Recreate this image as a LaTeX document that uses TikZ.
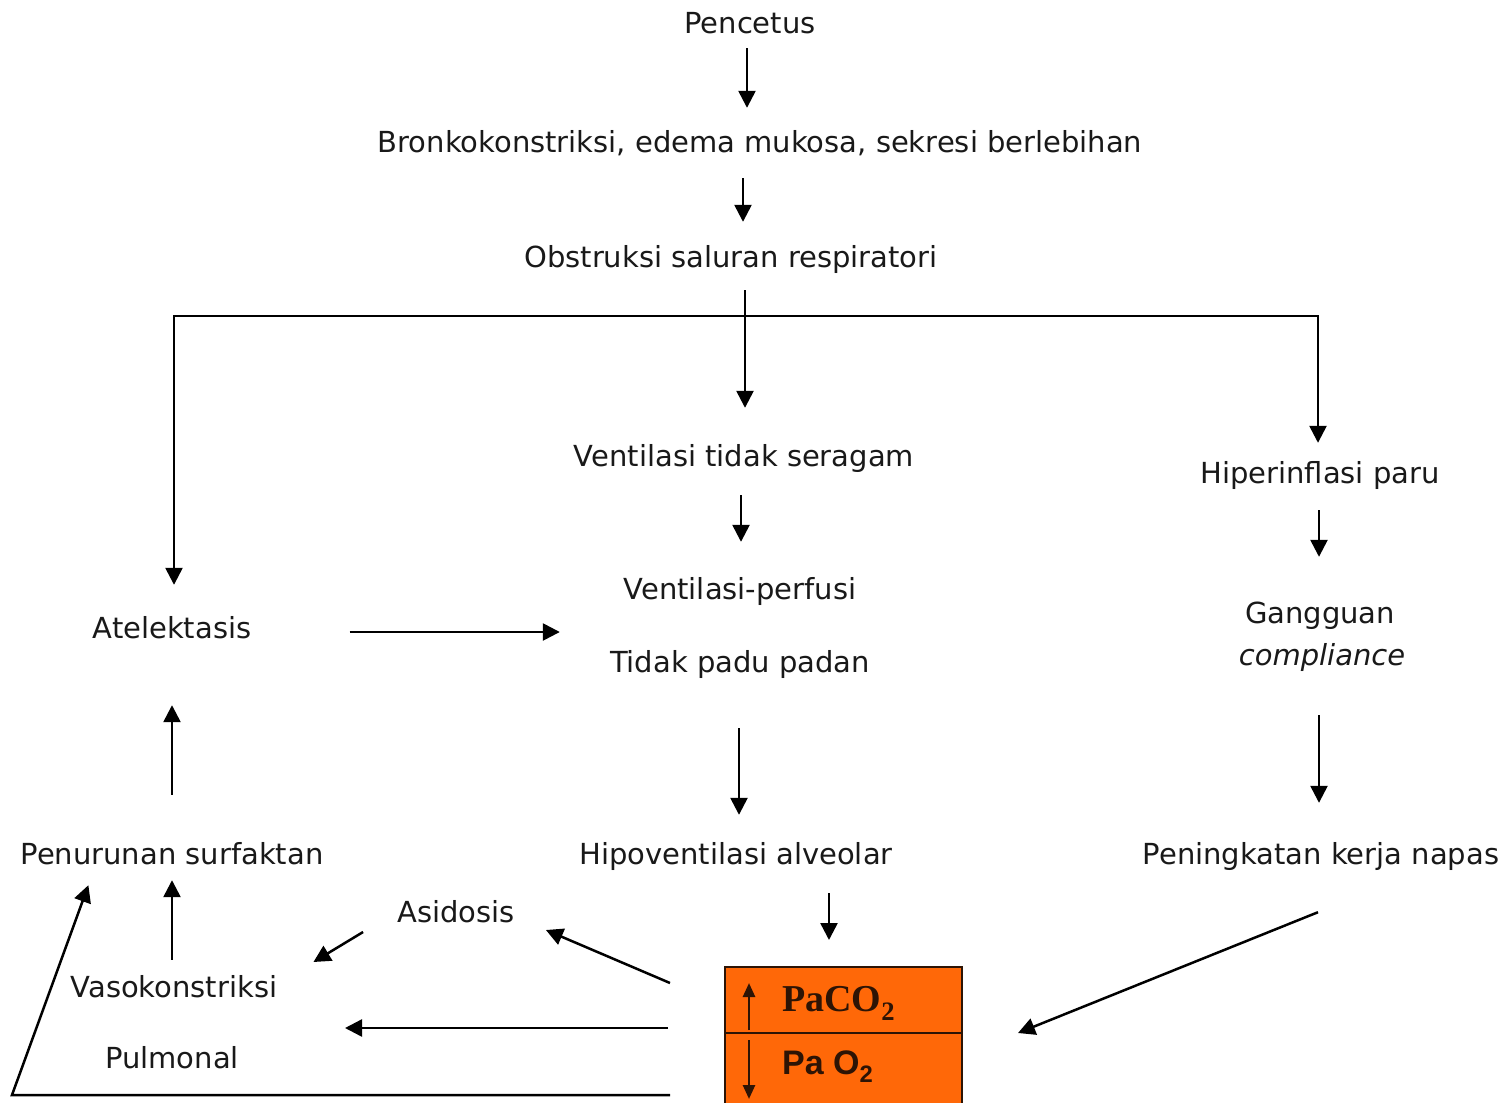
\documentclass[tikz,border=0pt]{standalone}
\usepackage{fontspec}
\setmainfont{DejaVu Sans}
\newfontfamily\boxserif{Liberation Serif}
\newfontfamily\boxsans{Liberation Sans}
\usetikzlibrary{arrows.meta,calc}
\definecolor{ink}{RGB}{25,25,25}
\definecolor{boxfill}{RGB}{255,104,8}
\definecolor{boxline}{RGB}{45,20,5}

\begin{document}
\begin{tikzpicture}[x=1pt,y=-1pt,
  lbl/.style={font=\fontsize{29}{34}\selectfont, text=ink, inner sep=0pt,
              text height=20pt, text depth=6pt},
  arr/.style={line width=2.5pt, draw=black, -{Triangle[length=17pt,width=17pt]}},
  cell/.style={draw=boxline, line width=2pt, fill=boxfill, minimum width=237pt,
               inner sep=0pt, outer sep=0pt},
  celltext/.style={text=boxline, inner sep=0pt, anchor=west},
  tiny/.style={line width=2.6pt, draw=boxline, -{Triangle[length=14pt,width=12pt]}}]

\useasboundingbox (0,0) rectangle (1508,1103);

% text nodes
\node[lbl] (pencetus)    at (750,26)   {Pencetus};
\node[lbl] (bronko)      at (760,145)  {Bronkokonstriksi, edema mukosa, sekresi berlebihan};
\node[lbl] (obstruksi)   at (731,260)  {Obstruksi saluran respiratori};
\node[lbl] (ventilasi)   at (744,459)  {Ventilasi tidak seragam};
\node[lbl] (vq1)         at (740,592)  {Ventilasi-perfusi};
\node[lbl] (vq2)         at (740,665)  {Tidak padu padan};
\node[lbl] (atelek)      at (172,631)  {Atelektasis};
\node[lbl] (hiper)       at (1320,476) {Hiperinflasi paru};
\node[lbl] (gangguan)    at (1320,616) {Gangguan};
\node[lbl] (compliance)  at (1322,658) {\itshape compliance};
\node[lbl] (penurunan)   at (172,857)  {Penurunan surfaktan};
\node[lbl] (hipo)        at (736,857)  {Hipoventilasi alveolar};
\node[lbl] (peningkatan) at (1321,857) {Peningkatan kerja napas};
\node[lbl] (asidosis)    at (456,915)  {Asidosis};
\node[lbl] (vaso)        at (174,990)  {Vasokonstriksi};
\node[lbl] (pulmonal)    at (172,1061) {Pulmonal};

% blood gas box
\node[cell, minimum height=66pt] (paco2) at (843.5,1000) {};
\node[cell, minimum height=72pt, anchor=north] (pao2) at (paco2.south) {};
\node[celltext, font=\boxserif\bfseries\fontsize{38}{40}\selectfont] (paco2txt)
  at (782,1003) {PaCO\textsubscript{2}};
\node[celltext, font=\boxsans\bfseries\fontsize{34}{36}\selectfont] (pao2txt)
  at (782,1067) {Pa O\textsubscript{2}};
\draw[tiny] ($(paco2.west)+(24,30)$) -- ($(paco2.west)+(24,-17)$);
\draw[tiny] ($(pao2.west)+(24,-29)$) -- ($(pao2.west)+(24,30)$);

% main chain
\draw[arr, shorten <=9pt, shorten >=24pt]
  ([xshift=-3pt]pencetus.south) -- ([xshift=-3pt]pencetus.south |- bronko.north);
\draw[arr, shorten <=20pt, shorten >=25pt]
  ([xshift=12pt]obstruksi.north |- bronko.south) -- ([xshift=12pt]obstruksi.north);
\draw[arr, shorten <=17pt, shorten >=38pt]
  ([xshift=1pt]ventilasi.north |- obstruksi.south) -- ([xshift=1pt]ventilasi.north);

% branches to both sides
\coordinate (split) at (745,316);
\draw[arr, shorten >=33pt] (split) -| ([xshift=2pt]atelek.north);
\draw[arr, shorten >=20pt] (split) -| ([xshift=-2pt]hiper.north);

\draw[arr, shorten <=23pt, shorten >=37pt]
  ([xshift=-3pt]ventilasi.south) -- ([xshift=-3pt]ventilasi.south |- vq1.north);
\draw[arr, shorten <=50pt, shorten >=29pt]
  ([xshift=-1pt]vq2.south) -- ([xshift=-1pt]vq2.south |- hipo.north);
\draw[arr, shorten <=98pt, shorten >=50pt]
  ([yshift=-1pt]atelek.east) -- ([yshift=-1pt]atelek.east -| vq2.west);

% right column
\draw[arr, shorten <=21pt, shorten >=46pt]
  ([xshift=-1pt]hiper.south) -- ([xshift=-1pt]hiper.south |- gangguan.north);
\draw[arr, shorten <=44pt, shorten >=41pt]
  ([xshift=-3pt]compliance.south) -- ([xshift=-3pt]compliance.south |- peningkatan.north);
\draw[arr] ([xshift=-3pt,yshift=-42pt]peningkatan.south) -- ([xshift=56pt]paco2.south east);

% left column
\draw[arr, shorten <=49pt, shorten >=61pt] (penurunan.north) -- (atelek.south);
\draw[arr, shorten <=17pt, shorten >=10pt]
  ([xshift=-2pt]vaso.north) -- ([xshift=-2pt]vaso.north |- penurunan.south);

% from the blood gas box
\draw[arr, shorten <=23pt, shorten >=27pt]
  ([xshift=-14.5pt]paco2.north |- hipo.south) -- ([xshift=-14.5pt]paco2.north);
\draw[arr] ([xshift=-55pt,yshift=17pt]paco2.west) -- ([xshift=31pt,yshift=-15pt]asidosis.east);
\draw[arr] ([xshift=-34pt,yshift=-17pt]asidosis.west) -- ([xshift=36pt,yshift=28pt]vaso.east);
\coordinate (pulstart) at ([xshift=-57pt,yshift=5pt]paco2.south west);
\draw[arr, shorten >=106pt] (pulstart) -- (pulstart -| pulmonal.east);
\coordinate (loopstart) at ([xshift=-55pt,yshift=-26pt]pao2.west);
\coordinate (corner) at ([xshift=-658pt]loopstart);
\draw[arr] (loopstart) -- (corner)
  -- ([xshift=68pt,yshift=-15pt]penurunan.south west);

\end{tikzpicture}
\end{document}
